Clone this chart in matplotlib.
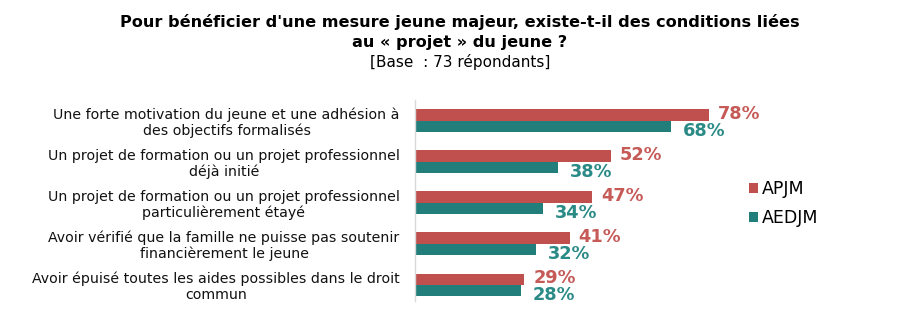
import matplotlib
matplotlib.use("Agg")
import matplotlib.pyplot as plt
import numpy as np

categories = [
    "Une forte motivation du jeune et une adhésion à\ndes objectifs formalisés",
    "Un projet de formation ou un projet professionnel\ndéjà initié",
    "Un projet de formation ou un projet professionnel\nparticulièrement étayé",
    "Avoir vérifié que la famille ne puisse pas soutenir\nfinancièrement le jeune",
    "Avoir épuisé toutes les aides possibles dans le droit\ncommun",
]
apjm = [78, 52, 47, 41, 29]
aedjm = [68, 38, 34, 32, 28]
series_names = ["APJM", "AEDJM"]

RED = "#C0504D"
TEAL = "#217E7A"
RED_TXT = "#C55A57"
TEAL_TXT = "#2A8A86"

W, H = 898, 326
fig = plt.figure(figsize=(W / 100, H / 100), dpi=100)
ax_left, ax_right = 415, 792
ax_top, ax_bot = 100, 301
ax = fig.add_axes([ax_left / W, 1 - ax_bot / H, (ax_right - ax_left) / W, (ax_bot - ax_top) / H])

y = np.arange(len(categories))
bh = 0.27
ax.barh(y - bh / 2, apjm, height=bh, color=RED, label=series_names[0])
ax.barh(y + bh / 2, aedjm, height=bh, color=TEAL, label=series_names[1])
ax.set_xlim(0, 100)
ax.set_ylim(4.4, -0.5)

for yi, v in zip(y, apjm):
    ax.annotate(f"{v}%", (v, yi - bh / 2), xytext=(9, 1), textcoords="offset pixels",
                ha="left", va="center", fontsize=12.8, fontweight="bold", color=RED_TXT)
for yi, v in zip(y, aedjm):
    ax.annotate(f"{v}%", (v, yi + bh / 2), xytext=(12, -5), textcoords="offset pixels",
                ha="left", va="center", fontsize=12.8, fontweight="bold", color=TEAL_TXT)

ax.set_yticks(y)
ax.set_yticklabels(categories, fontsize=10.2, multialignment="center", color="#111111",
                   linespacing=1.15)
ax.tick_params(axis="y", length=0, pad=11)
ax.set_xticks([])
for s in ["top", "right", "bottom"]:
    ax.spines[s].set_visible(False)
ax.spines["left"].set_color("#D9D9D9")
ax.spines["left"].set_linewidth(1.0)

leg = ax.legend(loc="upper left",
                bbox_to_anchor=((749 - ax_left) / (ax_right - ax_left), 1 - (180 - ax_top) / (ax_bot - ax_top)),
                frameon=False, fontsize=12.5, handlelength=0.5, handleheight=0.5,
                handletextpad=0.25, labelspacing=0.65, borderpad=0, borderaxespad=0)

fig.text(460 / W, 1 - 22 / H, "Pour bénéficier d'une mesure jeune majeur, existe-t-il des conditions liées",
         ha="center", va="center", fontsize=11.6, fontweight="bold")
fig.text(460 / W, 1 - 42 / H, "au « projet » du jeune ?", ha="center", va="center",
         fontsize=11.6, fontweight="bold")
fig.text(460 / W, 1 - 62 / H, "[Base  : 73 répondants]", ha="center", va="center", fontsize=11)

fig.savefig("out.png", dpi=100)
